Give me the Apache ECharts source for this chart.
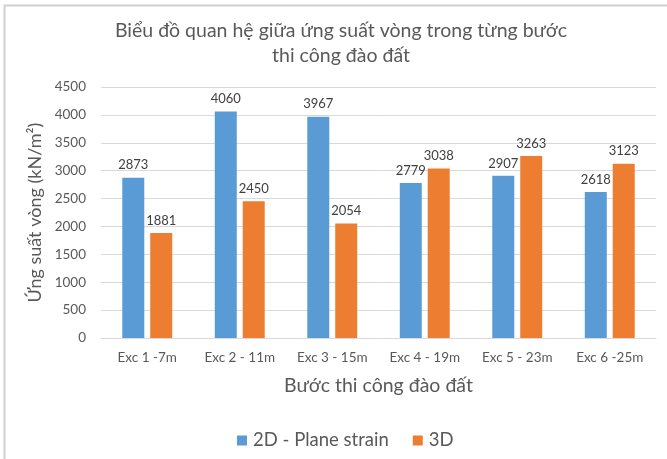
<!DOCTYPE html>
<html>
<head>
<meta charset="utf-8">
<script src="https://cdn.jsdelivr.net/npm/echarts@6/dist/echarts.min.js"></script>
<style>
  html, body { margin: 0; padding: 0; background: #fff; }
  #chart { width: 667px; height: 459px; }
</style>
</head>
<body>
<div id="chart"></div>
<script>
// Excavation steps and hoop stress per step (kN/m²)
const categories = ['Exc 1 -7m', 'Exc 2 - 11m', 'Exc 3 - 15m', 'Exc 4 - 19m', 'Exc 5 - 23m', 'Exc 6 -25m'];
const planeStrain2D = [2873, 4060, 3967, 2779, 2907, 2618];
const model3D = [1881, 2450, 2054, 3038, 3263, 3123];
const seriesNames = ['2D - Plane strain', '3D'];

const FONT = 'Lato, "Open Sans", sans-serif';
const TEXT = '#595959';

const chart = echarts.init(document.getElementById('chart'), null, { renderer: 'canvas' });

const labelStyle = {
  show: true,
  position: 'top',
  distance: 6,
  color: '#404040',
  fontFamily: FONT,
  fontSize: 13
};

chart.setOption({
  backgroundColor: '#fff',
  animation: false,
  graphic: [
    // chart frame
    { type: 'polyline', shape: { points: [[4.5, 459], [4.5, 5.5], [667, 5.5]] },
      style: { stroke: '#d0d0d0', lineWidth: 2, fill: null } }
  ],
  title: {
    text: 'Biểu đồ quan hệ giữa ứng suất vòng trong từng bước\nthi công đào đất',
    left: 336,
    textAlign: 'center',
    top: 13,
    textStyle: { fontFamily: FONT, fontSize: 19.5, fontWeight: 'normal', color: TEXT, lineHeight: 25 }
  },
  legend: {
    data: seriesNames,
    top: 426,
    left: 232,
    itemWidth: 10,
    itemHeight: 10,
    itemGap: 24,
    icon: 'rect',
    textStyle: { fontFamily: FONT, fontSize: 18.5, color: TEXT, padding: [0, 0, 0, 1] }
  },
  grid: { left: 101, right: 11, top: 87, bottom: 121, containLabel: false },
  xAxis: {
    type: 'category',
    data: categories,
    name: 'Bước thi công đào đất',
    nameLocation: 'middle',
    nameGap: 38,
    nameTextStyle: { fontFamily: FONT, fontSize: 19.5, color: TEXT },
    axisLine: { lineStyle: { color: '#d9d9d9', width: 1 } },
    axisTick: { show: false },
    axisLabel: { fontFamily: FONT, fontSize: 13.5, color: TEXT, margin: 13, interval: 0 }
  },
  yAxis: {
    type: 'value',
    min: 0,
    max: 4500,
    interval: 500,
    name: 'Ứng suất vòng (kN/m²)',
    nameLocation: 'middle',
    nameGap: 38,
    nameTextStyle: { fontFamily: FONT, fontSize: 18, color: TEXT },
    axisLine: { show: false },
    axisTick: { show: false },
    axisLabel: { fontFamily: FONT, fontSize: 13.5, color: TEXT, margin: 15, formatter: v => String(v) },
    splitLine: { lineStyle: { color: '#d9d9d9', width: 1 } }
  },
  series: [
    {
      name: seriesNames[0],
      type: 'bar',
      data: planeStrain2D,
      barWidth: 22,
      barGap: '27%',
      itemStyle: { color: '#5b9bd5' },
      label: labelStyle
    },
    {
      name: seriesNames[1],
      type: 'bar',
      data: model3D,
      barWidth: 22,
      itemStyle: { color: '#ed7d31' },
      label: labelStyle
    }
  ]
});
</script>
</body>
</html>
